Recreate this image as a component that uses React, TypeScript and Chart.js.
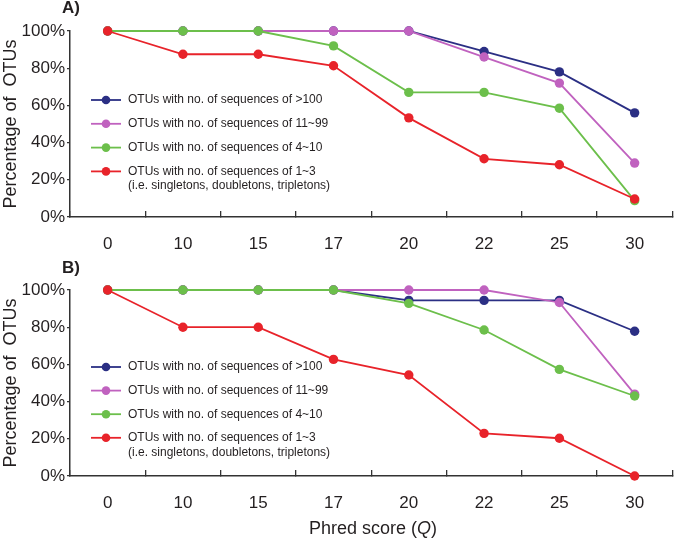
import React, { useEffect, useRef } from "react";
import { Chart, registerables } from "chart.js";

Chart.register(...registerables);

// ---------- data ----------
const phredScores = ["0", "10", "15", "17", "20", "22", "25", "30"];
const yTickValues = [0, 20, 40, 60, 80, 100];

const seriesLabels = [
  "OTUs with no. of sequences of >100",
  "OTUs with no. of sequences of 11~99",
  "OTUs with no. of sequences of 4~10",
  "OTUs with no. of sequences of 1~3",
];
const seriesNote = "(i.e. singletons, doubletons, tripletons)";
const seriesColors = ["#2b2f84", "#c062bf", "#6cbf4b", "#e8232a"];

// Panel A
const panelA_gt100 = [100, 100, 100, 100, 100, 89, 78, 56];
const panelA_11to99 = [100, 100, 100, 100, 100, 86, 72, 29];
const panelA_4to10 = [100, 100, 100, 92, 67, 67, 58.5, 8.8];
const panelA_1to3 = [100, 87.5, 87.5, 81.3, 53.3, 31.3, 28.1, 9.7];

// Panel B
const panelB_gt100 = [100, 100, 100, 100, 94.4, 94.4, 94.4, 77.8];
const panelB_11to99 = [100, 100, 100, 100, 100, 100, 93.3, 44];
const panelB_4to10 = [100, 100, 100, 100, 92.8, 78.5, 57.3, 43];
const panelB_1to3 = [100, 80, 80, 62.7, 54.3, 22.9, 20.3, 0];

const FONT = "'Liberation Sans', Arial, Helvetica, sans-serif";
const TEXT = "#231f20";
const AXIS = "#333333";

// draws the legend inside the plot area (legend entries come from the datasets)
const innerLegend = {
  id: "innerLegend",
  afterDatasetsDraw(chart: any, _args: any, opts: any) {
    const { ctx, chartArea } = chart;
    const x0 = chartArea.left + opts.left;
    let y = chartArea.top + opts.top;
    ctx.save();
    ctx.font = `12px ${FONT}`;
    ctx.textBaseline = "middle";
    ctx.textAlign = "left";
    (opts.order as number[]).forEach((di) => {
      const ds = chart.data.datasets[di];
      ctx.strokeStyle = ds.borderColor;
      ctx.lineWidth = 1.8;
      ctx.beginPath();
      ctx.moveTo(x0, y);
      ctx.lineTo(x0 + 30, y);
      ctx.stroke();
      ctx.fillStyle = ds.pointBackgroundColor;
      ctx.beginPath();
      ctx.arc(x0 + 15, y, 4.3, 0, Math.PI * 2);
      ctx.fill();
      ctx.fillStyle = TEXT;
      ctx.fillText(ds.label, x0 + 37, y);
      if (ds.note) ctx.fillText(ds.note, x0 + 37, y + 14.5);
      y += opts.spacing;
    });
    ctx.restore();
  },
};

type PanelProps = {
  series: number[][];
  width: number;
  height: number;
  padTop: number;
  xHeight: number;
  legendTop: number;
  legendSpacing: number;
};

function Panel({ series, width, height, padTop, xHeight, legendTop, legendSpacing }: PanelProps) {
  const ref = useRef<HTMLCanvasElement | null>(null);
  useEffect(() => {
    if (!ref.current) return;
    // draw order: index 0 on top -> red, green, purple, blue
    const drawOrder = [3, 2, 1, 0];
    const datasets = drawOrder.map((si) => ({
      label: seriesLabels[si],
      note: si === 3 ? seriesNote : undefined,
      data: series[si],
      borderColor: seriesColors[si],
      backgroundColor: seriesColors[si],
      pointBackgroundColor: seriesColors[si],
      pointBorderColor: seriesColors[si],
      pointRadius: 4.7,
      pointBorderWidth: 0,
      borderWidth: 1.8,
      tension: 0,
      clip: false as any,
    }));
    const chart = new Chart(ref.current, {
      type: "line",
      data: { labels: phredScores, datasets: datasets as any },
      options: {
        responsive: false,
        animation: false,
        devicePixelRatio: 1,
        layout: { padding: { top: padTop, right: 1, left: 0, bottom: 0 } },
        plugins: {
          legend: { display: false },
          tooltip: { enabled: false },
          innerLegend: { left: 21, top: legendTop, spacing: legendSpacing, order: [3, 2, 1, 0] },
        } as any,
        scales: {
          x: {
            type: "category",
            offset: true,
            grid: {
              display: true,
              offset: true,
              drawOnChartArea: false,
              drawTicks: true,
              tickLength: -6,
              color: AXIS,
              lineWidth: 1.3,
            },
            border: { display: true, color: AXIS, width: 1.5 },
            ticks: {
              padding: 23.5,
              color: TEXT,
              autoSkip: false,
              maxRotation: 0,
              font: { size: 17, family: FONT },
            },
            afterFit: (s: any) => {
              s.height = xHeight;
            },
          },
          y: {
            min: 0,
            max: 100,
            afterBuildTicks: (s: any) => {
              s.ticks = yTickValues.map((v) => ({ value: v }));
            },
            ticks: {
              padding: 2,
              color: TEXT,
              font: { size: 17, family: FONT },
              callback: (v: any) => `${v}%`,
            },
            grid: {
              display: true,
              drawOnChartArea: false,
              drawTicks: true,
              tickLength: 3,
              color: AXIS,
              lineWidth: 1.3,
            },
            border: { display: true, color: AXIS, width: 1.5 },
            title: {
              display: true,
              text: "Percentage of  OTUs",
              color: TEXT,
              padding: 0,
              font: { size: 18, family: FONT },
            },
            afterFit: (s: any) => {
              s.width = 70;
            },
          },
        },
      } as any,
      plugins: [innerLegend as any],
    });
    return () => chart.destroy();
  }, []);
  return <canvas ref={ref} width={width} height={height} style={{ display: "block", width, height }} />;
}

export default function App() {
  const panelLabel: React.CSSProperties = {
    position: "absolute",
    left: 62,
    fontFamily: FONT,
    fontWeight: "bold",
    fontSize: 17,
    lineHeight: "20px",
    color: TEXT,
  };
  return (
    <div
      style={{
        position: "absolute",
        left: 0,
        top: 0,
        width: 677,
        height: 540,
        background: "#ffffff",
        overflow: "hidden",
      }}
    >
      <div style={{ position: "absolute", left: 0, top: 0 }}>
        <Panel
          series={[panelA_gt100, panelA_11to99, panelA_4to10, panelA_1to3]}
          width={677}
          height={258}
          padTop={31}
          xHeight={41}
          legendTop={69}
          legendSpacing={23.8}
        />
      </div>
      <div style={{ position: "absolute", left: 0, top: 258 }}>
        <Panel
          series={[panelB_gt100, panelB_11to99, panelB_4to10, panelB_1to3]}
          width={677}
          height={282}
          padTop={32}
          xHeight={64}
          legendTop={77}
          legendSpacing={23.6}
        />
      </div>
      <div style={{ ...panelLabel, top: -2 }}>A)</div>
      <div style={{ ...panelLabel, top: 258 }}>B)</div>
      <div
        style={{
          position: "absolute",
          left: 70,
          width: 606,
          top: 517,
          textAlign: "center",
          fontFamily: FONT,
          fontSize: 18,
          lineHeight: "22px",
          color: TEXT,
        }}
      >
        Phred score (<i>Q</i>)
      </div>
    </div>
  );
}
